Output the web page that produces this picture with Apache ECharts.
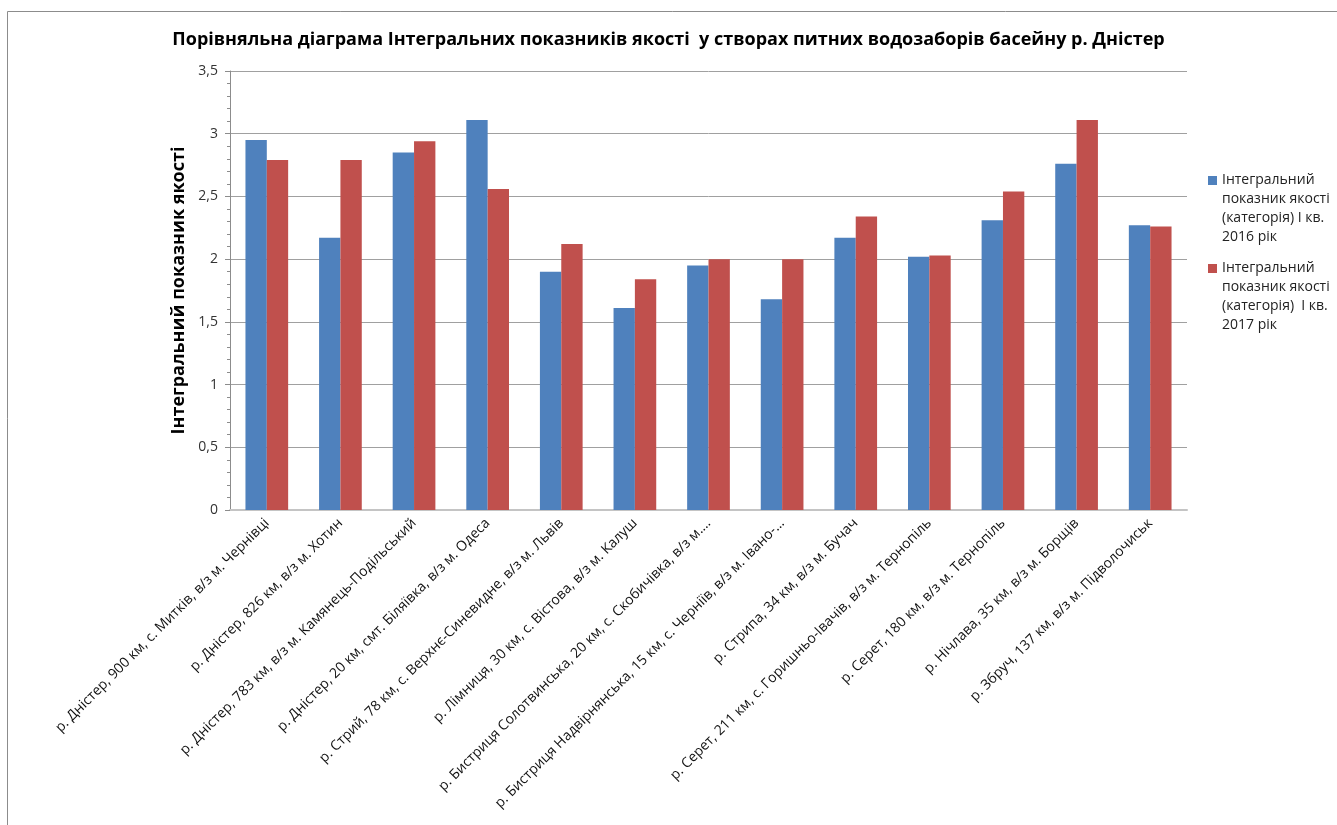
<!DOCTYPE html>
<html>
<head>
<meta charset="utf-8">
<script src="https://cdn.jsdelivr.net/npm/echarts@6/dist/echarts.min.js"></script>
<style>
  html, body { margin: 0; padding: 0; background: #fff; }
  #chart { width: 1337px; height: 825px; }
</style>
</head>
<body>
<div id="chart"></div>
<script>
// Створи питних водозаборів басейну р. Дністер
const categories = [
  'р. Дністер, 900 км, с. Митків, в/з м. Чернівці',
  'р. Дністер, 826 км, в/з м. Хотин',
  'р. Дністер, 783 км, в/з м. Камянець-Подільський',
  'р. Дністер, 20 км, смт. Біляївка, в/з м. Одеса',
  'р. Стрий, 78 км, с. Верхнє-Синевидне, в/з м. Львів',
  'р. Лімниця, 30 км, с. Вістова, в/з м. Калуш',
  'р. Бистриця Солотвинська, 20 км, с. Скобичівка, в/з м.…',
  'р. Бистриця Надвірнянська, 15 км, с. Черніїв, в/з м. Івано-…',
  'р. Стрипа, 34 км, в/з м. Бучач',
  'р. Серет, 211 км, с. Горишньо-Івачів, в/з м. Тернопіль',
  'р. Серет, 180 км, в/з м. Тернопіль',
  'р. Нічлава, 35 км, в/з м. Борщів',
  'р. Збруч, 137 км, в/з м. Підволочиськ'
];

// Інтегральний показник якості, І квартал
const values2016 = [2.95, 2.17, 2.85, 3.11, 1.90, 1.61, 1.95, 1.68, 2.17, 2.02, 2.31, 2.76, 2.27];
const values2017 = [2.79, 2.79, 2.94, 2.56, 2.12, 1.84, 2.00, 2.00, 2.34, 2.03, 2.54, 3.11, 2.26];

const seriesNames = [
  'Інтегральний показник якості (категорія) І кв. 2016 рік',
  'Інтегральний показник якості (категорія)  І кв. 2017 рік'
];
// Рядки підпису легенди
const legendLines = [
  ['Інтегральний', 'показник якості', '(категорія) І кв.', '2016 рік'],
  ['Інтегральний', 'показник якості', '(категорія)  І кв.', '2017 рік']
];

const yTicks = { min: 0, max: 3.5, step: 0.5 };

const FONT = '"Open Sans", "Noto Sans", sans-serif';
const BLUE = '#4F81BD';
const RED = '#C0504D';

// Легенда: значок на рівні першого рядка (порожні рядки зверху врівноважують блок)
function legendFor(idx, top) {
  return {
    data: [seriesNames[idx]],
    orient: 'vertical',
    left: 1208,
    top: top,
    padding: 0,
    itemWidth: 9,
    itemHeight: 9,
    itemGap: 0,
    icon: 'rect',
    formatter: function () {
      return '\n\n\n' + legendLines[idx].join('\n');
    },
    textStyle: {
      fontFamily: FONT,
      fontSize: 14,
      lineHeight: 19,
      color: '#222'
    }
  };
}

const chart = echarts.init(document.getElementById('chart'), null, { renderer: 'canvas' });

chart.setOption({
  backgroundColor: '#fff',
  animation: false,
  title: {
    text: 'Порівняльна діаграма Інтегральних показників якості  у створах питних водозаборів басейну р. Дністер',
    left: 'center',
    top: 26,
    textStyle: {
      fontFamily: FONT,
      fontSize: 18,
      fontWeight: 'bold',
      color: '#000'
    }
  },
  graphic: [{
    type: 'rect',
    shape: { x: 7.5, y: 11.5, width: 1500, height: 1000 },
    style: { fill: 'none', stroke: '#8c8c8c', lineWidth: 1 },
    silent: true
  }],
  legend: [legendFor(0, 114), legendFor(1, 202)],
  grid: {
    left: 230,
    right: 150,
    top: 71,
    bottom: 315,
    containLabel: false
  },
  xAxis: {
    type: 'category',
    data: categories,
    axisLine: { lineStyle: { color: '#c4c4c4', width: 2 } },
    axisTick: { show: false },
    axisLabel: {
      interval: 0,
      rotate: 45,
      margin: 11,
      padding: [24, 0, 0, 0],
      fontFamily: FONT,
      fontSize: 14,
      color: '#111'
    }
  },
  yAxis: {
    type: 'value',
    min: yTicks.min,
    max: yTicks.max,
    interval: yTicks.step,
    name: 'Інтегральний показник якості',
    nameLocation: 'middle',
    nameRotate: 90,
    nameGap: 42,
    nameTextStyle: {
      fontFamily: FONT,
      fontSize: 18,
      fontWeight: 'bold',
      color: '#000'
    },
    axisLine: { show: true, lineStyle: { color: '#8c8c8c', width: 1 } },
    axisTick: { show: true, length: 5, lineStyle: { color: '#8c8c8c' } },
    minorTick: { show: true, splitNumber: 5, length: 3, lineStyle: { color: '#8c8c8c' } },
    axisLabel: {
      margin: 12,
      fontFamily: FONT,
      fontSize: 14,
      color: '#333',
      formatter: function (v) { return String(v).replace('.', ','); }
    },
    splitLine: { show: true, lineStyle: { color: '#a0a0a0', width: 1 } }
  },
  series: [
    {
      name: seriesNames[0],
      type: 'bar',
      data: values2016,
      barGap: '0%',
      barCategoryGap: '42%',
      itemStyle: { color: BLUE }
    },
    {
      name: seriesNames[1],
      type: 'bar',
      data: values2017,
      barGap: '0%',
      barCategoryGap: '42%',
      itemStyle: { color: RED }
    }
  ]
});
</script>
</body>
</html>
